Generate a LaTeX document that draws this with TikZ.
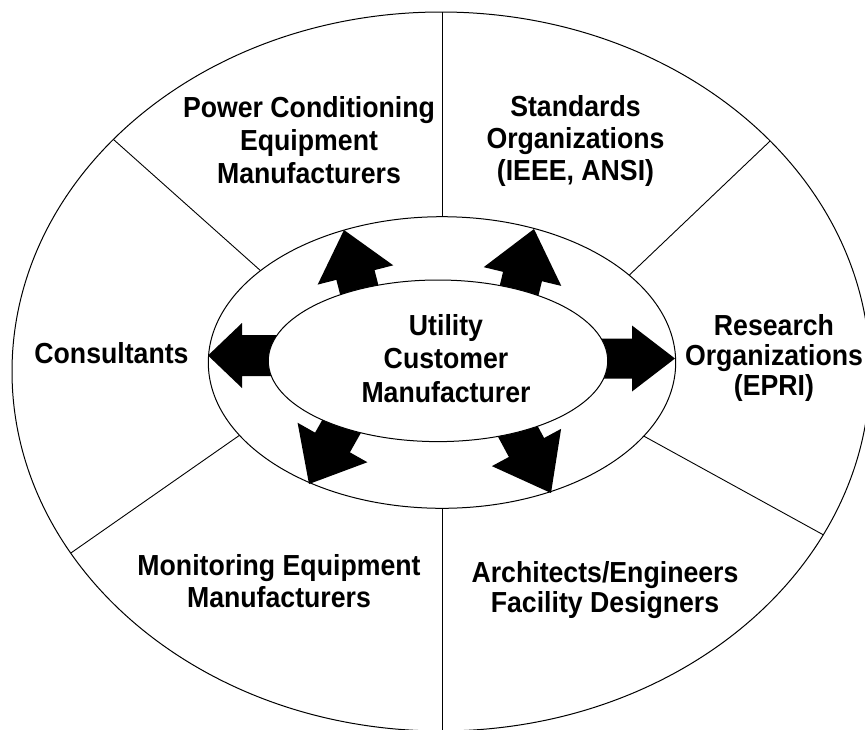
\documentclass[tikz,border=0pt]{standalone}
\usepackage{fontspec}
\newfontfamily\labfont{Liberation Sans}[FakeStretch=0.92]
\begin{document}
\tikzset{
  lbl/.style={font=\labfont\bfseries\fontsize{29}{#1}\selectfont, align=center, anchor=base, inner sep=0pt},
  lbl/.default=33,
  ring/.style={draw=black, line width=1pt},
  divider/.style={draw=black, line width=0.9pt},
  pics/blockarrow/.style n args={4}{code={
    \fill[black] (0,0) -- (-#1,#2) -- (-#1,#3) -- (-#4,#3) -- (-#4,-#3) -- (-#1,-#3) -- (-#1,-#2) -- cycle;}}
}
\begin{tikzpicture}[x=1pt, y=-1pt]
  \useasboundingbox (0,0) rectangle (865,729);
  \fill[white] (0,0) rectangle (865,729);
  \clip (0,0) rectangle (865,729);

  % centres of the three rings
  \coordinate (co) at (441,371.5);
  \coordinate (cm) at (442,362.5);
  \coordinate (ci) at (438,360.8);

  % outer ring
  \draw[ring] (co) ellipse [x radius=429pt, y radius=359.5pt];

  % divider end points
  \coordinate (d1a) at (442,300);  \coordinate (d1b) at (442,-10);
  \coordinate (d2a) at (600,303);  \coordinate (d2b) at (800,112.5);
  \coordinate (d3a) at (620,423);  \coordinate (d3b) at (870,560.5);
  \coordinate (d4a) at (442,420);  \coordinate (d4b) at (442,750);
  \coordinate (d5a) at (260,421);  \coordinate (d5b) at (30,581.5);
  \coordinate (d6a) at (280,288);  \coordinate (d6b) at (80,109.6);

  \begin{scope}
    \clip (co) ellipse [x radius=429pt, y radius=359.5pt];
    \draw[divider] (d1a) -- (d1b);
    \draw[divider] (d2a) -- (d2b);
    \draw[divider] (d3a) -- (d3b);
    \draw[divider] (d4a) -- (d4b);
    \draw[divider] (d5a) -- (d5b);
    \draw[divider] (d6a) -- (d6b);
  \end{scope}

  % middle ring
  \filldraw[ring, fill=white] (cm) ellipse [x radius=233.7pt, y radius=145.8pt];

  % block arrows: {head length}{head half width}{shaft half width}{total length}
  \pic[rotate=180]   at (208,355.5) {blockarrow={34}{32.5}{20.5}{100}};
  \pic[rotate=0]     at (675,358.5) {blockarrow={43}{33}{20}{100}};
  \pic[rotate=104.3] at (344,230)   {blockarrow={46.4}{39}{19.7}{106}};
  \pic[rotate=76.4]  at (534,229)   {blockarrow={48.9}{39.9}{20}{108}};
  \pic[rotate=240.5] at (309,484)   {blockarrow={47.7}{40.1}{20}{108}};
  \pic[rotate=-61.7] at (551,493)   {blockarrow={51.7}{39.3}{20}{110}};

  % inner ring
  \filldraw[ring, fill=white] (ci) ellipse [x radius=169.7pt, y radius=80.8pt];

  % labels (anchor = baseline of the last line)
  \node[lbl=33.5] (core) at (446,402) {Utility\\Customer\\Manufacturer};
  \node[lbl=33] (pcem) at (309,183) {Power Conditioning\\Equipment\\Manufacturers};
  \node[lbl=32] (std) at (575.5,180) {Standards\\Organizations\\(IEEE, ANSI)};
  \node[lbl=30] (res) at (774,395) {Research\\Organizations\\(EPRI)};
  \node[lbl] (cons) at (111.5,363) {Consultants};
  \node[lbl=32] (mon) at (279,607) {Monitoring Equipment\\Manufacturers};
  \node[lbl=30] (arch) at (605,612) {Architects/Engineers\\Facility Designers};
\end{tikzpicture}
\end{document}
